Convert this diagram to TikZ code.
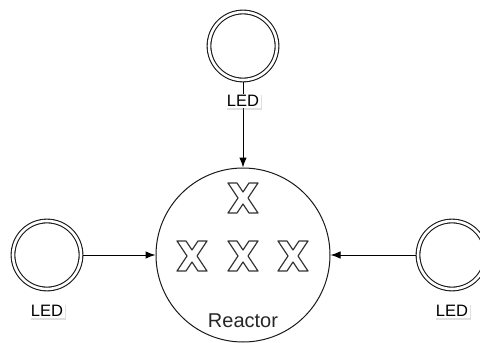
\documentclass[tikz,border=0pt]{standalone}
\usepackage{fontspec}
\setmainfont{Liberation Sans}
\usetikzlibrary{arrows.meta, positioning, shadows}

\begin{document}
\begin{tikzpicture}[
    x=1pt, y=-1pt,
    led/.style={circle, draw=black!90, line width=1.1pt, double=white, double distance=2.6pt, fill=white, minimum size=68pt, inner sep=0pt, outer sep=2.4pt},
    reactor/.style={circle, draw=black!90, line width=1pt, fill=white, minimum size=174pt, inner sep=0pt},
    edge/.style={-{Latex[length=10pt, width=7.5pt]}, line width=1pt, black},
    ledtext/.style={fill=white, inner sep=1.5pt, font=\fontsize{16.5}{16.5}\selectfont, drop shadow={opacity=0.25, shadow xshift=1.5pt, shadow yshift=-1.5pt}},
    xmark/.style={draw=black!80, line width=1.2pt, fill=white, line join=round},
    font=\fontsize{20}{20}\selectfont
]
\clip (0,0) rectangle (480,343);

% reactor and LEDs
\node[reactor] (reactor) at (243,255) {};
\node[led] (ledtop) at (243,46) {};
\node[led] (ledleft) at (47,255) {};
\node[led] (ledright) at (452,255) {};

% light paths
\draw[edge] (ledtop) -- (reactor);
\draw[edge] (ledleft) -- (reactor);
\draw[edge] (ledright) -- (reactor);

% labels
\node[ledtext] (lbltop) at (243,101) {LED};
\node[ledtext] (lblleft) at (47,311) {LED};
\node[ledtext] (lblright) at (452,311) {LED};
\node[text=black!85] (lblreactor) at (243,321) {Reactor};

% samples
\foreach \p in {(243,198), (192,256), (243,256), (293,256)}
    \draw[xmark, shift={\p}] (-15,-15) -- (-6,-15) -- (0,-6) -- (6,-15) -- (15,-15) -- (5,0)
        -- (15,15) -- (6,15) -- (0,6) -- (-6,15) -- (-15,15) -- (-5,0) -- cycle;

\end{tikzpicture}
\end{document}
